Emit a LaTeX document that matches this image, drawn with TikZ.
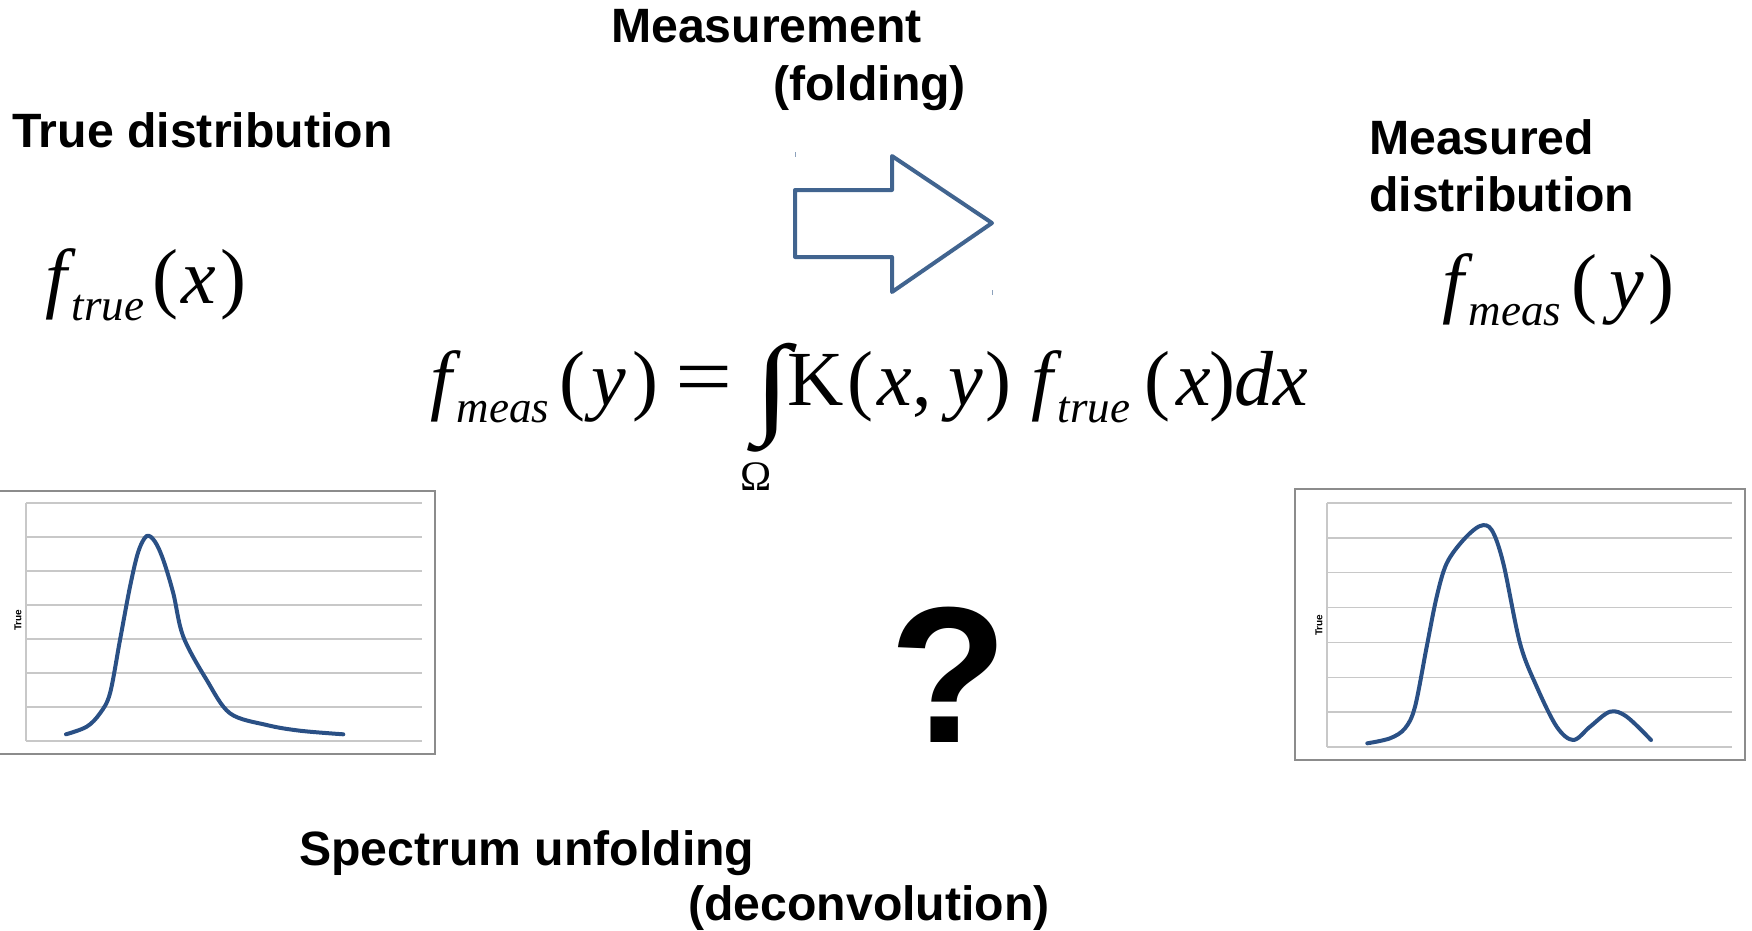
\documentclass[tikz,border=0pt]{standalone}
\usepackage{fontspec}
\setmainfont{Liberation Sans}
\newfontfamily\serfont{Liberation Serif}
\definecolor{arrowblue}{HTML}{41648F}
\definecolor{curveblue}{HTML}{2A5085}
\definecolor{gridgray}{HTML}{C8C8C8}
\definecolor{framegray}{HTML}{8C8C8C}
\newcommand\FF[1]{\textit{f}\kern-4pt\raisebox{-17pt}{\fontsize{45}{54}\selectfont\textit{#1}}}
\tikzset{
  lbl/.style={font=\bfseries\fontsize{48.2}{56}\selectfont, inner sep=0pt, anchor=base west},
  fx/.style={font=\serfont\fontsize{78}{90}\selectfont, inner sep=0pt, anchor=base west},
  gridln/.style={draw=gridgray, line width=1.5pt},
  framebox/.style={draw=framegray, line width=1.5pt},
  curve/.style={draw=curveblue, line width=4pt, line cap=round, line join=round},
  bigarrow/.style={draw=arrowblue, line width=4pt, line join=round},
  axlbl/.style={font=\bfseries\fontsize{10}{11}\selectfont, inner sep=0pt, rotate=90}
}
\begin{document}
\begin{tikzpicture}[x=1pt,y=-1pt]
\useasboundingbox (0,0) rectangle (1752,930);

% titles
\node[lbl] (meas) at (611,42) {Measurement};
\node[lbl] (fold) at (773,100) {(folding)};
\node[lbl] (truedist) at (12,147) {True distribution};
\node[lbl] (measd1) at (1369,154) {Measured};
\node[lbl] (measd2) at (1369,211) {distribution};
\node[lbl] (spec) at (299,865) {Spectrum unfolding};
\node[lbl] (decon) at (688,920) {(deconvolution)};
\node[font=\bfseries\fontsize{194}{210}\selectfont, inner sep=0pt, anchor=base west] (qm) at (889,742) {?};

% formulas
\node[fx] (ftrue) at (45,303) {\FF{true}\kern8pt(\kern3pt\textit{x}\kern5pt)};
\node[fx] (fmeas) at (1442,308) {\FF{meas}\kern10pt(\kern12pt\textit{y}\kern5pt)};
\node[fx] (lhs) at (430,405) {\FF{meas}\kern10pt(\kern6pt\textit{y}\kern7pt)\kern17pt\scalebox{1.3}[1.1]{=}};
\node[inner sep=0pt, anchor=north west] (int) at (754,343) {\resizebox*{36pt}{109pt}{\serfont ∫}};
\node[inner sep=0pt, anchor=base west, font=\serfont\fontsize{42}{50}\selectfont] (omega) at (740,490) {Ω};
\node[fx] (rhs) at (787,405) {K\kern4pt(\kern4pt\textit{x},\kern17pt\textit{y}\kern2pt)\kern20pt\FF{true}\kern14pt(\kern6pt\textit{x}\kern-2pt)\textit{dx}};

% arrow
\draw[bigarrow] (795,190) coordinate (a1) -- (892,190) -- (892,156) -- (992,223) coordinate (atip) -- (892,292) -- (892,257) -- (795,257) -- cycle;
\draw[draw=arrowblue!60, line width=1pt] (795,152) coordinate (t1) -- (795,157);
\draw[draw=arrowblue!60, line width=1pt] (992,290) coordinate (t2) -- (992,295);

% left plot
\draw[framebox] (0,491) coordinate (lf1) -- (435,491) -- (435,754) -- (0,754);
\foreach \k in {0,...,7} {\draw[gridln] (26,503+34*\k) -- (422,503+34*\k);}
\draw[gridln] (26,503) -- (26,741);
\node[axlbl] (ltrue) at (18,620) {True};
\draw[curve] plot[smooth, tension=0.55] coordinates {(66,734.3) (86.7,726.7) (100,713.3) (110,693.3) (120,640) (130,586.7) (138.3,551.7) (146.7,536) (155,541.7) (163.3,560) (173.3,593.3) (183.3,636.7) (206.7,680) (230,713.3) (266.7,725) (300,730.7) (343.3,734.3)};

% right plot
\draw[framebox] (1295,489) rectangle (1745,760);
\foreach \k in {0,...,7} {\draw[gridln] (1327,503+34.86*\k) -- (1732,503+34.86*\k);}
\draw[gridln] (1327,503) -- (1327,747);
\node[axlbl] (rtrue) at (1319,625) {True};
\draw[curve] plot[smooth, tension=0.55] coordinates {(1367.3,743.3) (1390,738.3) (1405,728.3) (1415,706.7) (1426.7,646.7) (1436.7,596.7) (1446.7,563.3) (1463.3,540) (1480,526) (1491.7,530) (1503.3,563.3) (1520,643.3) (1536.7,686.7) (1556.7,726.7) (1573.3,740) (1590,726.7) (1610,711.7) (1626.7,716.7) (1651,740)};
\end{tikzpicture}
\end{document}
